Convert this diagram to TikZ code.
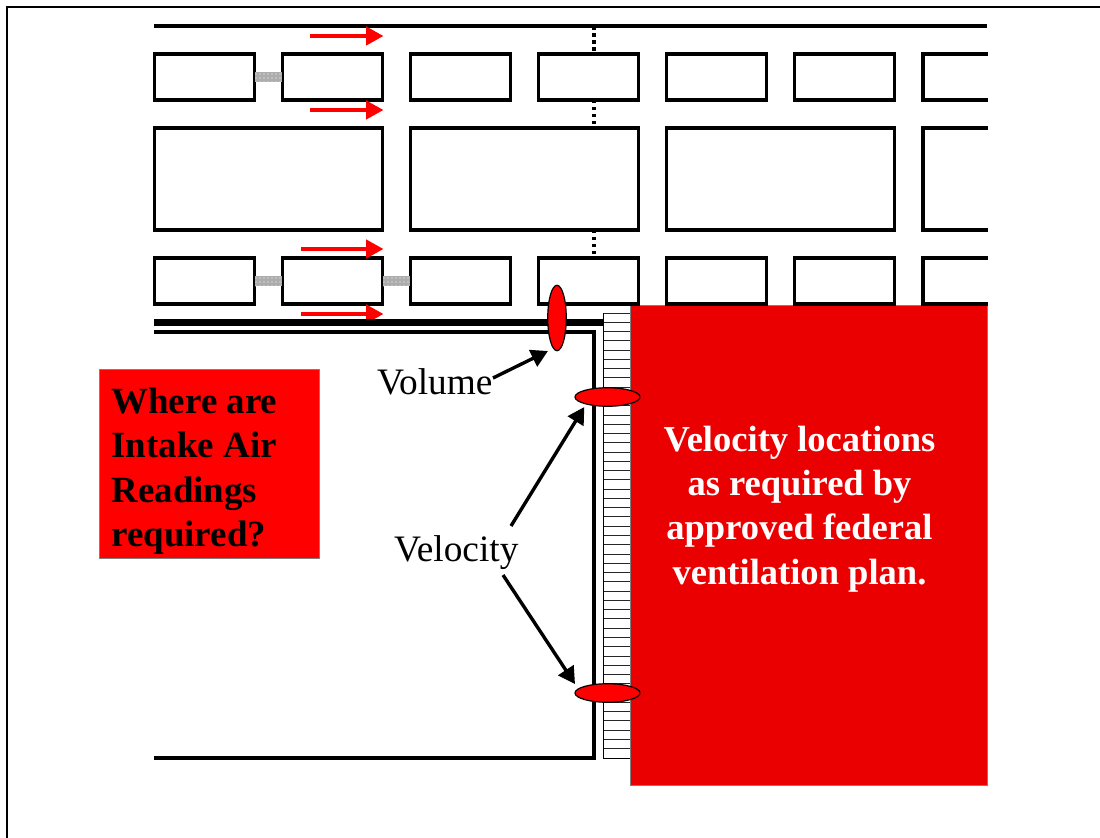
\documentclass[tikz,border=0pt]{standalone}
\usepackage{fontspec}
\setmainfont{Liberation Serif}
\usetikzlibrary{arrows.meta,patterns,shapes.geometric}
\definecolor{deepred}{RGB}{234,0,0}
\tikzset{
  x=0.75pt,y=-0.75pt,
  px/.style={line width=#1*0.75pt},
  every node/.style={outer sep=0pt},
  roombox/.style={draw=black,px=3.2,fill=white,inner sep=0pt,anchor=north west,minimum height=34.5pt,minimum width=75pt},
  widebox/.style={roombox,minimum height=76.5pt,minimum width=171pt},
  openbox/.style={draw=black,px=3.2,line cap=butt,line join=miter},
  wall/.style={draw=black,px=4,line join=miter},
  flow/.style={draw=red,px=4,-{Triangle[length=13pt,width=13.5pt,fill=red]}},
  pointer/.style={draw=black,px=3.4,-{Triangle[length=12.5pt,width=13.5pt,fill=black]}},
  shaft/.style={draw=black,px=4,dash pattern=on 2.625pt off 2.625pt},
  link/.style={draw=none,preaction={fill=gray!65},pattern=dots,pattern color=white,inner sep=0pt,minimum width=20.25pt,minimum height=7.5pt},
  sensor/.style={ellipse,draw=black,px=1.2,fill=red,inner sep=0pt},
  caption/.style={font=\fontsize{#1}{33.2pt}\selectfont\bfseries,inner sep=0pt},
  plain/.style={font=\fontsize{28pt}{33pt}\selectfont,inner sep=0pt,anchor=base west},
}
\begin{document}
\begin{tikzpicture}
\useasboundingbox (0,0) rectangle (1100,838);
% outer frame
\draw[black,px=2] (7,838) -- (7,7) -- (1100,7);

% top wall
\draw[wall] (154,26) -- (987,26);

% dotted shaft line
\coordinate (s1) at (594,26.5); \coordinate (s2) at (594,54);
\coordinate (s3) at (594,100); \coordinate (s4) at (594,128);
\coordinate (s5) at (594,230); \coordinate (s6) at (594,258);
\draw[shaft] (s1) -- (s2);
\draw[shaft] (s3) -- (s4);
\draw[shaft] (s5) -- (s6);

% row 1
\node[roombox] (a1) at (154.5,54) {};
\node[roombox] (a2) at (282.5,54) {};
\node[roombox] (a3) at (410.5,54) {};
\node[roombox] (a4) at (538.5,54) {};
\node[roombox] (a5) at (666.5,54) {};
\node[roombox] (a6) at (794.5,54) {};
\draw[openbox] (988,54) -- (923,54) -- (923,100) -- (988,100);
% row 2
\node[widebox] (b1) at (154.5,128) {};
\node[widebox] (b2) at (410.5,128) {};
\node[widebox] (b3) at (666.5,128) {};
\draw[openbox] (988,128) -- (923,128) -- (923,230) -- (988,230);

% big red block and strip
\node[draw=gray,px=1,fill=deepred,inner sep=0pt,anchor=north west,minimum width=267.75pt,minimum height=360pt] (block) at (630,305) {};
\node[draw=none,fill=white,inner sep=0pt,anchor=north west,minimum width=20.25pt,minimum height=333.75pt] (strip) at (603,313) {};
\foreach \i in {0,...,48}{
  \draw[black!85,px=0.9] (603,{313+\i*9.27}) -- (630,{313+\i*9.27});
}
\draw[black,px=1] (603,313) -- (603,758) -- (630,758);

% row 3
\node[roombox] (c1) at (154.5,258) {};
\node[roombox] (c2) at (282.5,258) {};
\node[roombox] (c3) at (410.5,258) {};
\node[roombox] (c4) at (538.5,258) {};
\node[roombox] (c5) at (666.5,258) {};
\node[roombox] (c6) at (794.5,258) {};
\draw[openbox] (988,258) -- (923,258) -- (923,304) -- (988,304);

% links between rooms
\node[link] (l1) at (268.5,77) {};
\node[link] (l2) at (268.5,281) {};
\node[link] (l3) at (396.5,281) {};

% red flow arrows
\coordinate (f1a) at (310,36);  \coordinate (f1b) at (383.5,36);
\coordinate (f2a) at (310,110); \coordinate (f2b) at (383.5,110);
\coordinate (f3a) at (301,249); \coordinate (f3b) at (383.5,249);
\coordinate (f4a) at (301,314); \coordinate (f4b) at (383.5,314);
\draw[flow] (f1a) -- (f1b);
\draw[flow] (f2a) -- (f2b);
\draw[flow] (f3a) -- (f3b);
\draw[flow] (f4a) -- (f4b);

% walls of the entry
\draw[black,px=7] (154,322.5) -- (603,322.5);
\draw[wall] (154,332) -- (594,332) -- (594,758) -- (154,758);

% sensors
\node[sensor,minimum width=13.9pt,minimum height=49.1pt] (vol) at (557,318) {};
\node[sensor,minimum width=48.75pt,minimum height=13.9pt] (velA) at (607.5,397) {};
\node[sensor,minimum width=48.75pt,minimum height=13.9pt] (velB) at (607.5,693) {};

% labels
\node[plain] (volLabel) at (377,394.5) {Volume};
\node[plain] (velLabel) at (394,561) {Velocity};
\coordinate (volFrom) at (493,378); \coordinate (volTip) at (548,351);
\coordinate (velFromA) at (511,526); \coordinate (velTipA) at (584.3,407);
\coordinate (velFromB) at (503,575); \coordinate (velTipB) at (575,684);
\draw[pointer] (volFrom) -- (volTip);
\draw[pointer] (velFromA) -- (velTipA);
\draw[pointer] (velFromB) -- (velTipB);

% left red note
\node[draw=gray,px=1,fill=red,inner sep=0pt,anchor=north west,minimum width=165pt,minimum height=141.75pt] (note) at (99,369) {};
\node[caption=27.7pt,align=left,anchor=north west,text=black] (noteText) at (111.5,388) {Where are\\Intake Air\\Readings\\required?};

% text in the block
\node[caption=27.4pt,align=center,text=white,anchor=north] (blockText) at (799.5,426) {Velocity locations\\as required by\\approved federal\\ventilation plan.};
\end{tikzpicture}
\end{document}
